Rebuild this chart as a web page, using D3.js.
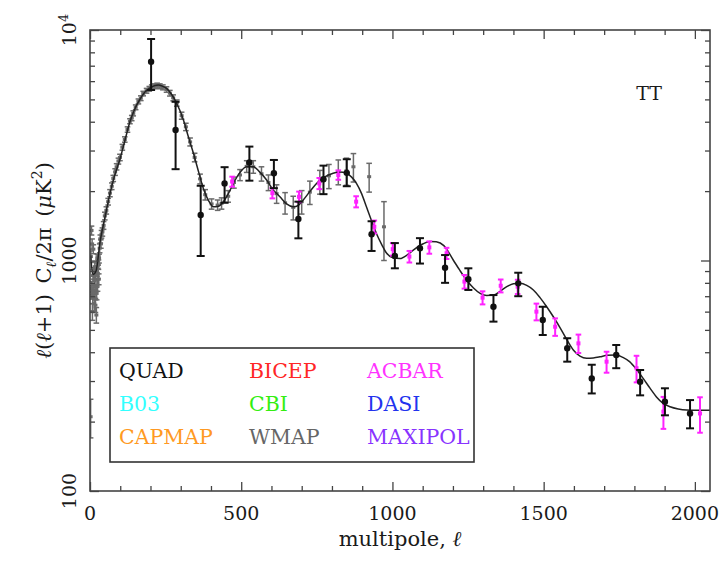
<!DOCTYPE html>
<html>
<head>
<meta charset="utf-8">
<script src="https://cdn.jsdelivr.net/npm/d3@7"></script>
<style>
  html, body { margin: 0; padding: 0; background: #fff; }
  svg text { font-family: "DejaVu Serif", "Liberation Serif", serif; }
</style>
</head>
<body>
<svg id="chart" width="726" height="576"></svg>
<script>
// Theory curve: multipole and D_l = l(l+1)C_l/2pi in uK^2
const modelL = [2,10,20,33,50,66,80,99,115,132,150,165,180,198,215,226,240,253,270,287,309,325,342,360,375,392,408,425,441,460,474,495,518,540,560,584,605,628,650,672,690,705,728,749,775,804,825,848,865,881,898,914,930,947,965,981,1000,1025,1050,1069,1095,1124,1145,1170,1201,1222,1245,1268,1290,1312,1334,1356,1378,1400,1422,1444,1466,1488,1510,1532,1554,1576,1598,1620,1642,1664,1686,1710,1740,1762,1784,1806,1829,1851,1873,1895,1918,1945,1973,2000,2050];
const modelD = [1050,870,900,1200,1550,1950,2300,2750,3300,4000,4600,5000,5350,5600,5750,5770,5700,5580,5250,4800,4070,3450,2920,2400,2050,1820,1710,1720,1800,1980,2160,2400,2550,2550,2430,2235,2030,1890,1760,1710,1740,1830,2000,2160,2300,2390,2420,2390,2300,2160,1950,1710,1500,1310,1170,1075,1030,1020,1060,1110,1170,1210,1205,1160,1005,910,823,760,720,705,708,735,770,792,796,780,745,690,630,570,512,455,409,385,377,378,382,388,389,380,364,338,308,280,256,240,232,227,224.5,224,224];

// WMAP band powers: multipole, value, 1-sigma error
const wmapL = [2,3,4,5,6,7,8,9,10,11,12,13,14,15,16,17,18,19,20,21,22,23,24,25,26,27,28,29,30,32,34,36,38,41,45,49,54,60,66,72,77,83,88,94,99,107,115,124,132,138,143,151,160,168,176,187,196,204,213,222,231,241,253,264,275,287,303,317,331,346,364,381,402,422,435,457,476,496,518,540,567,590,617,645,672,700,727,760,790,821,848,871,923,972];
const wmapD = [210,1040,730,1350,760,1180,600,700,860,1120,880,740,650,820,940,720,640,880,780,580,720,900,1020,780,880,1000,960,830,1020,1130,1240,1180,1300,1330,1420,1560,1650,1800,1960,2100,2270,2420,2550,2700,2800,3100,3350,3700,4020,4150,4350,4620,4900,5060,5300,5450,5560,5650,5700,5740,5700,5640,5520,5320,5080,4820,4250,3800,3270,2800,2260,1930,1760,1740,1770,1900,2180,2350,2560,2550,2380,2180,1950,1780,1700,1800,1980,2200,2330,2430,2450,2550,2310,1400];
const wmapErr = [40,60,50,60,50,60,50,50,50,50,50,45,45,45,45,45,45,45,45,45,45,45,45,45,45,45,45,45,45,50,50,50,50,55,55,60,60,60,70,70,70,80,80,80,90,90,90,100,100,110,110,110,120,120,120,130,130,130,140,140,140,140,150,150,150,150,150,140,130,120,110,100,90,90,100,110,120,130,150,160,170,170,180,190,200,210,230,260,280,300,330,360,330,400];

// ACBAR band powers
const acbarL = [470,603,691,758,821,880,940,1001,1056,1122,1179,1238,1298,1358,1414,1476,1538,1615,1708,1807,1896,2017];
const acbarD = [2200,1960,1890,2160,2350,1800,1400,1120,1040,1140,1075,810,690,777,770,600,516,437,364,341,221,217];
const acbarErr = [110,100,100,120,110,100,90,70,60,70,60,55,45,50,55,50,45,40,38,45,35,38];

// QUAD band powers with lower / upper 1-sigma limits
const quadL = [202,283,366,445,527,608,689,772,849,931,1008,1091,1174,1251,1334,1416,1497,1578,1659,1740,1819,1901,1984];
const quadD = [7290,3680,1575,2160,2660,2390,1513,2250,2400,1300,1046,1130,930,829,630,796,552,416,308,389,298,244,217];
const quadLo = [5490,2490,1046,1780,2220,2060,1248,1940,2100,1100,925,970,800,745,543,700,475,364,265,341,260,213,187];
const quadHi = [9140,4880,2110,2540,3120,2730,1800,2580,2750,1480,1190,1250,1056,925,708,885,630,460,353,430,335,279,248];

// Legend entries (three columns)
const legendNames = ["QUAD","BICEP","ACBAR","B03","CBI","DASI","CAPMAP","WMAP","MAXIPOL"];
const legendColors = ["#111111","#ff2626","#ff33ff","#33ffff","#33ee11","#2233ee","#ff9922","#666666","#8833ff"];

const xMajor = [0,500,1000,1500,2000];
const xMinor = d3.range(100, 2050, 100).filter(v => v % 500 !== 0);
const yMajor = [100,1000,10000];
const yMinor = [200,300,400,500,600,700,800,900,2000,3000,4000,5000,6000,7000,8000,9000];

const svg = d3.select("#chart");
const L = 90, R = 710, T = 30, B = 491;
const x = d3.scaleLinear().domain([0, 2050]).range([L, R]);
const y = d3.scaleLog().domain([100, 10000]).range([B, T]);

const frameColor = "#444";

// clip region for the data
svg.append("clipPath").attr("id","plotclip")
  .append("rect").attr("x", L).attr("y", T).attr("width", R - L).attr("height", B - T);

const plot = svg.append("g").attr("clip-path", "url(#plotclip)");

// helper for error bars with caps
function errorBars(g, data, color, width, cap) {
  const grp = g.append("g").attr("stroke", color).attr("stroke-width", width).attr("fill", "none");
  data.forEach(d => {
    const cx = x(d.l);
    grp.append("line").attr("x1", cx).attr("x2", cx).attr("y1", y(d.lo)).attr("y2", y(d.hi));
    grp.append("line").attr("x1", cx - cap).attr("x2", cx + cap).attr("y1", y(d.lo)).attr("y2", y(d.lo));
    grp.append("line").attr("x1", cx - cap).attr("x2", cx + cap).attr("y1", y(d.hi)).attr("y2", y(d.hi));
  });
  return grp;
}

// WMAP
const wmap = wmapL.map((l, i) => ({ l, d: wmapD[i], lo: Math.max(101, wmapD[i] - wmapErr[i]), hi: wmapD[i] + wmapErr[i] }));
errorBars(plot, wmap, "#6a6a6a", 1.5, 2.8);
plot.append("g").selectAll("rect").data(wmap).join("rect")
  .attr("x", d => x(d.l) - 2).attr("y", d => y(d.d) - 1.5).attr("width", 4).attr("height", 3)
  .attr("fill", "#6a6a6a");

// model curve
const line = d3.line().x((d, i) => x(modelL[i])).y(d => y(d)).curve(d3.curveMonotoneX);
plot.append("path").datum(modelD).attr("d", line)
  .attr("fill", "none").attr("stroke", "#222").attr("stroke-width", 1.5);

// ACBAR
const acbar = acbarL.map((l, i) => ({ l, d: acbarD[i], lo: acbarD[i] - acbarErr[i], hi: acbarD[i] + acbarErr[i] }));
errorBars(plot, acbar, "#ff22ff", 2, 2.8);
plot.append("g").selectAll("rect").data(acbar).join("rect")
  .attr("x", d => x(d.l) - 2).attr("y", d => y(d.d) - 2).attr("width", 4).attr("height", 4)
  .attr("fill", "#ff22ff");

// QUAD
const quad = quadL.map((l, i) => ({ l, d: quadD[i], lo: quadLo[i], hi: quadHi[i] }));
errorBars(plot, quad, "#111", 2, 4);
plot.append("g").selectAll("circle").data(quad).join("circle")
  .attr("cx", d => x(d.l)).attr("cy", d => y(d.d)).attr("r", 3.2).attr("fill", "#111");

// axes with inward ticks on all four sides
function styleAxis(g) {
  g.select(".domain").remove();
  g.selectAll(".tick line").attr("stroke", frameColor).attr("stroke-width", 1.3);
  g.selectAll(".tick text").remove();
}
svg.append("g").attr("transform", `translate(0,${B})`).call(d3.axisBottom(x).tickValues(xMajor).tickSize(-9)).call(styleAxis);
svg.append("g").attr("transform", `translate(0,${B})`).call(d3.axisBottom(x).tickValues(xMinor).tickSize(-5)).call(styleAxis);
svg.append("g").attr("transform", `translate(0,${T})`).call(d3.axisTop(x).tickValues(xMajor).tickSize(-9)).call(styleAxis);
svg.append("g").attr("transform", `translate(0,${T})`).call(d3.axisTop(x).tickValues(xMinor).tickSize(-5)).call(styleAxis);
svg.append("g").attr("transform", `translate(${L},0)`).call(d3.axisLeft(y).tickValues(yMajor).tickSize(-9)).call(styleAxis);
svg.append("g").attr("transform", `translate(${L},0)`).call(d3.axisLeft(y).tickValues(yMinor).tickSize(-5)).call(styleAxis);
svg.append("g").attr("transform", `translate(${R},0)`).call(d3.axisRight(y).tickValues(yMajor).tickSize(-9)).call(styleAxis);
svg.append("g").attr("transform", `translate(${R},0)`).call(d3.axisRight(y).tickValues(yMinor).tickSize(-5)).call(styleAxis);

// frame
svg.append("rect").attr("x", L).attr("y", T).attr("width", R - L).attr("height", B - T)
  .attr("fill", "none").attr("stroke", frameColor).attr("stroke-width", 1.6);

const textColor = "#1a1a1a";
const fs = 19;

// x tick labels
svg.append("g").selectAll("text").data(xMajor).join("text")
  .attr("x", d => x(d)).attr("y", 520).attr("text-anchor", "middle")
  .attr("font-size", fs).attr("fill", textColor).text(d => d);

// y tick labels, rotated
const yLab = svg.append("g");
yMajor.forEach(v => {
  const t = yLab.append("text").attr("transform", `translate(76,${y(v)}) rotate(-90)`)
    .attr("text-anchor", "middle").attr("font-size", fs).attr("fill", textColor);
  if (v === 10000) {
    t.append("tspan").text("10");
    t.append("tspan").attr("dy", -8).attr("font-size", 13).text("4");
  } else {
    t.text(v);
  }
});

// axis titles
const tfs = 21;
const xt = svg.append("text").attr("x", 400).attr("y", 546).attr("text-anchor", "middle")
  .attr("font-size", tfs).attr("fill", textColor);
xt.append("tspan").text("multipole, ");
xt.append("tspan").attr("font-style", "italic").text("ℓ");

const yt = svg.append("text").attr("transform", `translate(51,${(T + B) / 2}) rotate(-90)`)
  .attr("text-anchor", "middle").attr("font-size", tfs).attr("fill", textColor)
  .attr("xml:space", "preserve");
yt.append("tspan").attr("font-style", "italic").text("ℓ");
yt.append("tspan").text("(");
yt.append("tspan").attr("font-style", "italic").text("ℓ");
yt.append("tspan").text("+1)\u2002C");
yt.append("tspan").attr("font-style", "italic").attr("font-size", 14).attr("dy", 5).text("ℓ");
yt.append("tspan").attr("dy", -5).text("/2π\u2002(");
yt.append("tspan").attr("font-style", "italic").text("μ");
yt.append("tspan").text("K");
yt.append("tspan").attr("font-size", 14).attr("dy", -9).text("2");
yt.append("tspan").attr("dy", 9).text(")");

// spectrum label
svg.append("text").attr("x", 649).attr("y", 100).attr("text-anchor", "middle")
  .attr("font-size", fs).attr("fill", textColor).text("TT");

// legend
const lfs = 20.5;
const lg = svg.append("g");
lg.append("rect").attr("x", 110).attr("y", 348).attr("width", 364).attr("height", 114)
  .attr("fill", "#fff").attr("stroke", "#333").attr("stroke-width", 1.6);
const colX = [119, 249, 367];
const rowY = [378, 411, 444];
legendNames.forEach((name, i) => {
  lg.append("text").attr("x", colX[i % 3]).attr("y", rowY[Math.floor(i / 3)])
    .attr("font-size", lfs).attr("fill", legendColors[i]).text(name);
});
</script>
</body>
</html>
